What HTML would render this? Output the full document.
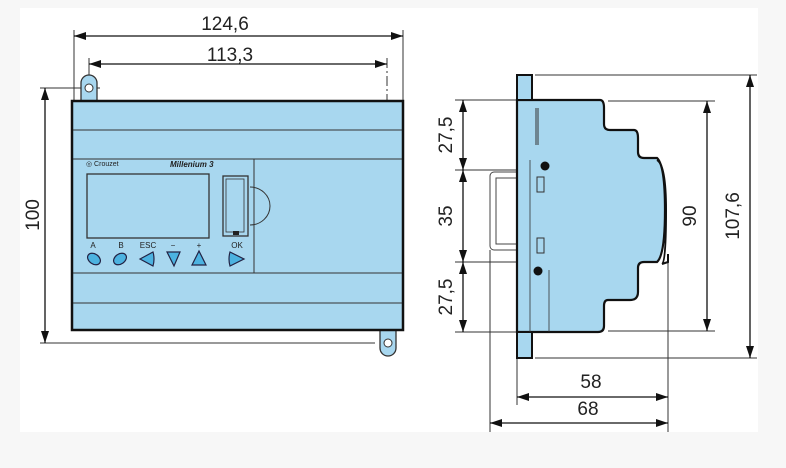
<!DOCTYPE html>
<html><head><meta charset="utf-8"><style>
html,body{margin:0;padding:0;background:#f7f7f7;}
svg{display:block;}
text{font-family:"Liberation Sans",sans-serif;fill:#222;}
</style></head><body>
<svg width="786" height="468" viewBox="0 0 786 468" xmlns="http://www.w3.org/2000/svg">
<defs>
<marker id="a" viewBox="0 0 12 8" refX="12" refY="4" markerWidth="12" markerHeight="8" markerUnits="userSpaceOnUse" orient="auto-start-reverse"><path d="M0,0 L12,4 L0,8 z" fill="#111"/></marker>
</defs>
<rect x="20" y="8" width="738" height="424" fill="#fff"/>
<g stroke="#333" stroke-width="1" fill="none">
<!-- left view extension lines -->
<line x1="74" y1="30" x2="74" y2="100"/>
<line x1="403" y1="30" x2="403" y2="100"/>
<line x1="89" y1="58" x2="89" y2="100"/>
<line x1="387" y1="58" x2="387" y2="355" stroke-dasharray="10,3,2,3"/>
<line x1="40" y1="88" x2="100" y2="88"/>
<line x1="40" y1="343" x2="375" y2="343"/>
</g>
<g stroke="#111" stroke-width="1.3">
<line x1="74" y1="36" x2="403" y2="36" marker-start="url(#a)" marker-end="url(#a)"/>
<line x1="89" y1="64" x2="387" y2="64" marker-start="url(#a)" marker-end="url(#a)"/>
<line x1="45" y1="88" x2="45" y2="343" marker-start="url(#a)" marker-end="url(#a)"/>
</g>
<text x="225" y="30" font-size="19" text-anchor="middle">124,6</text>
<text x="230" y="61" font-size="19" text-anchor="middle">113,3</text>
<text transform="translate(39,215) rotate(-90)" font-size="19" text-anchor="middle">100</text>
<!-- tabs -->
<path d="M81,101 V83 a8,8 0 0 1 16,0 V101 z" fill="#a8d7ef" stroke="#333" stroke-width="1.3"/>
<circle cx="89" cy="88" r="4" fill="#fff" stroke="#333"/>
<path d="M380,330 V348 a8,8 0 0 0 16,0 V330 z" fill="#a8d7ef" stroke="#333" stroke-width="1.3"/>
<circle cx="388" cy="343" r="4" fill="#fff" stroke="#333"/>
<!-- main body -->
<rect x="72" y="101" width="331" height="229" fill="#a8d7ef" stroke="#111" stroke-width="2.5"/>
<g stroke="#333" stroke-width="1">
<line x1="73" y1="130" x2="402" y2="130"/>
<line x1="73" y1="159" x2="402" y2="159"/>
<line x1="73" y1="273" x2="402" y2="273"/>
<line x1="73" y1="303" x2="402" y2="303"/>
<line x1="254" y1="159" x2="254" y2="273"/>
</g>
<rect x="87" y="174" width="122" height="64" fill="#a8d7ef" stroke="#333" stroke-width="1.3"/>
<rect x="223" y="176" width="25" height="60" fill="#a8d7ef" stroke="#333" stroke-width="1.3"/>
<rect x="226" y="179" width="18" height="53" fill="none" stroke="#333" stroke-width="0.8"/>
<rect x="233" y="231" width="6" height="4" fill="#222"/>
<path d="M250,187 a20,19 0 0 1 0,38" fill="none" stroke="#333"/>
<text x="86" y="166" font-size="7" fill="#335">◎ Crouzet</text>
<text x="170" y="167" font-size="8" font-style="italic" font-weight="bold">Millenium 3</text>
<g font-size="8" text-anchor="middle" fill="#333">
<text x="93" y="248">A</text><text x="121" y="248">B</text><text x="148" y="248">ESC</text>
<text x="173" y="248">−</text><text x="199" y="248">+</text><text x="237" y="248">OK</text>
</g>
<g fill="#4cb2e0" stroke="#224" stroke-width="1.2">
<ellipse cx="94" cy="259" rx="7" ry="5" transform="rotate(35 94 259)"/>
<ellipse cx="120" cy="259" rx="7" ry="5" transform="rotate(-35 120 259)"/>
<path d="M140,259 L153,252 Q155,259 153,266 z"/>
<path d="M167,252 L180,252 L174,266 z"/>
<path d="M199,251 L206,265 L192,265 z"/>
<path d="M230,252 L244,259 L230,266 Q228,259 230,252 z"/>
</g>
<!-- right view -->
<g stroke="#333" stroke-width="1" fill="none">
<line x1="455" y1="100" x2="517" y2="100"/>
<line x1="455" y1="170" x2="530" y2="170"/>
<line x1="455" y1="262" x2="530" y2="262"/>
<line x1="455" y1="332" x2="530" y2="332"/>
<line x1="535" y1="75" x2="757" y2="75"/>
<line x1="535" y1="358" x2="757" y2="358"/>
<line x1="608" y1="101" x2="715" y2="101"/>
<line x1="608" y1="331" x2="715" y2="331"/>
<line x1="517" y1="358" x2="517" y2="405"/>
<line x1="490" y1="250" x2="490" y2="432"/>
<line x1="668" y1="260" x2="668" y2="432"/>
</g>
<!-- DIN rail -->
<path d="M518,172 H494 a4,4 0 0 0 -4,4 V246 a4,4 0 0 0 4,4 H518 V244 H496 V178 H518 z" fill="#fff" stroke="#444"/>
<!-- body -->
<path d="M517,100 H600 Q604,100 604,108 V124 Q604,130 610,130 H634 Q638,130 638,138 V152 Q638,158 644,158 H657 Q665,165 665,210 Q665,255 657,262 H644 Q638,262 638,268 V292 Q638,300 630,300 H608 Q604,300 604,306 V326 Q604,332 598,332 H517 Z" fill="#a8d7ef" stroke="#111" stroke-width="2.2"/>
<path d="M657,160 Q666,165 666,210 Q666,262 662,264 L668,262 V254" fill="none" stroke="#111" stroke-width="2"/>
<rect x="517" y="75" width="15" height="25" fill="#a8d7ef" stroke="#111" stroke-width="2"/>
<rect x="517" y="332" width="15" height="26" fill="#a8d7ef" stroke="#111" stroke-width="2"/>
<line x1="537" y1="108" x2="537" y2="145" stroke="#333" stroke-width="3"/>
<line x1="537" y1="108" x2="537" y2="145" stroke="#a8d7ef" stroke-width="1"/>
<line x1="530" y1="160" x2="530" y2="332" stroke="#333" stroke-width="0.8"/>
<line x1="549" y1="270" x2="549" y2="332" stroke="#333" stroke-width="0.8"/>
<circle cx="545" cy="166" r="4.5" fill="#111"/>
<circle cx="538" cy="271" r="4.5" fill="#111"/>
<rect x="537" y="177" width="7" height="15" fill="none" stroke="#333"/>
<rect x="537" y="238" width="7" height="15" fill="none" stroke="#333"/>
<g stroke="#111" stroke-width="1.3">
<line x1="463" y1="100" x2="463" y2="170" marker-start="url(#a)" marker-end="url(#a)"/>
<line x1="463" y1="170" x2="463" y2="262" marker-start="url(#a)" marker-end="url(#a)"/>
<line x1="463" y1="262" x2="463" y2="332" marker-start="url(#a)" marker-end="url(#a)"/>
<line x1="707" y1="101" x2="707" y2="331" marker-start="url(#a)" marker-end="url(#a)"/>
<line x1="750" y1="75" x2="750" y2="358" marker-start="url(#a)" marker-end="url(#a)"/>
<line x1="517" y1="397" x2="668" y2="397" marker-start="url(#a)" marker-end="url(#a)"/>
<line x1="490" y1="423" x2="668" y2="423" marker-start="url(#a)" marker-end="url(#a)"/>
</g>
<g font-size="19" text-anchor="middle">
<text transform="translate(452,135) rotate(-90)">27,5</text>
<text transform="translate(452,216) rotate(-90)">35</text>
<text transform="translate(452,297) rotate(-90)">27,5</text>
<text transform="translate(696,216) rotate(-90)">90</text>
<text transform="translate(739,216) rotate(-90)">107,6</text>
<text x="591" y="388">58</text>
<text x="588" y="415">68</text>
</g>
</svg>
</body></html>
